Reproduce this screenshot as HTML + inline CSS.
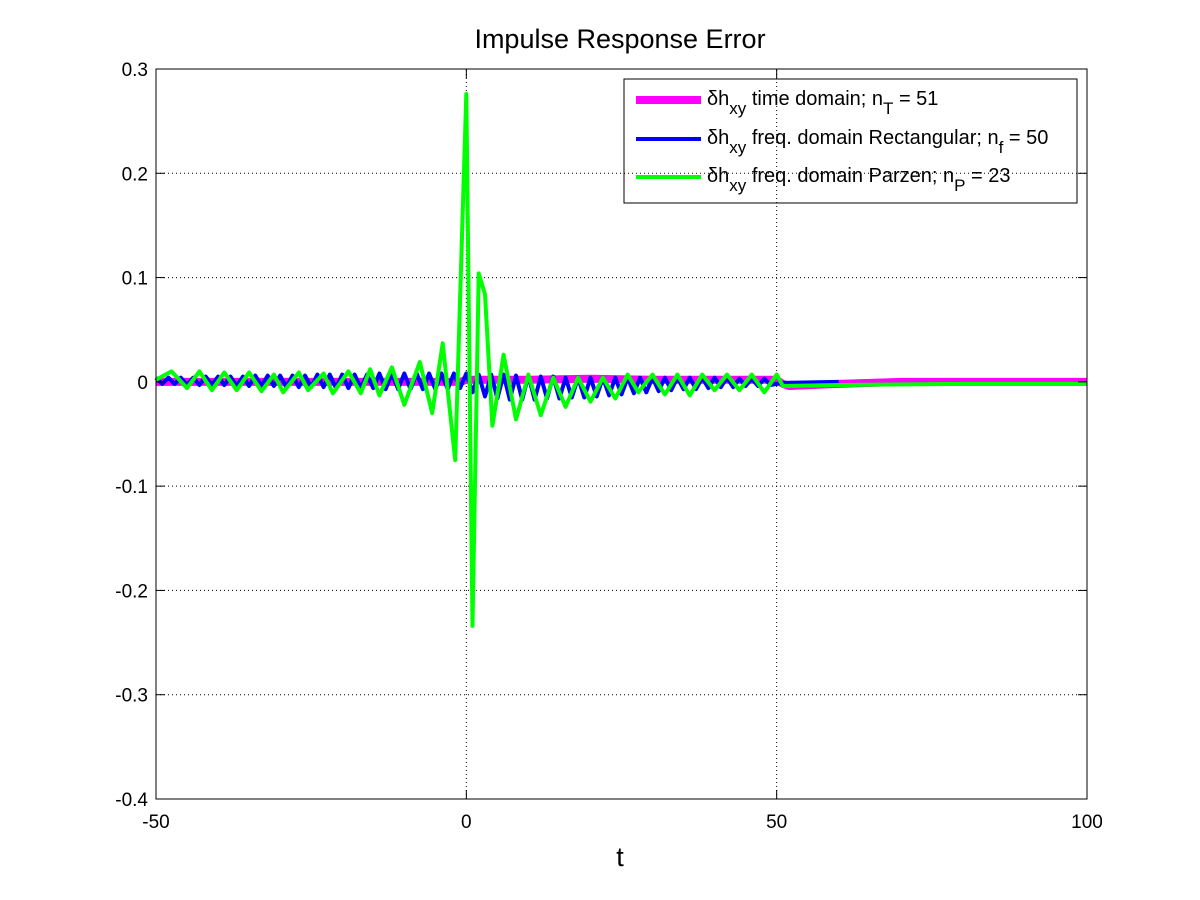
<!DOCTYPE html>
<html><head><meta charset="utf-8"><style>
body{margin:0;background:#fff;}
svg{display:block;font-family:"Liberation Sans",sans-serif;}
</style></head><body>
<svg id="chart" width="1200" height="900" xmlns="http://www.w3.org/2000/svg">
<rect width="1200" height="900" fill="#fff"/>
<text x="620" y="48" font-size="27" text-anchor="middle">Impulse Response Error</text>
<g id="grid"></g>
<g id="series"></g>
<rect x="156" y="69" width="931" height="730" fill="none" stroke="#000" stroke-width="1"/>
<g id="ticks"></g>
<text x="620" y="866" font-size="27" text-anchor="middle">t</text>
<g>
<rect x="624" y="79" width="453" height="124" fill="none" stroke="#000" stroke-width="1"/>
<line x1="636" y1="100" x2="701" y2="100" stroke="#ff00ff" stroke-width="8"/>
<text x="707" y="105" font-size="20">δh<tspan dy="9" font-size="17">xy</tspan><tspan dy="-9"> time domain; n</tspan><tspan dy="9" font-size="17">T</tspan><tspan dy="-9"> = 51</tspan></text>
<line x1="636" y1="139" x2="701" y2="139" stroke="#0000ff" stroke-width="4"/>
<text x="707" y="144" font-size="20">δh<tspan dy="9" font-size="17">xy</tspan><tspan dy="-9"> freq. domain Rectangular; n</tspan><tspan dy="9" font-size="17">f</tspan><tspan dy="-9"> = 50</tspan></text>
<line x1="636" y1="177" x2="701" y2="177" stroke="#00ff00" stroke-width="4"/>
<text x="707" y="182" font-size="20">δh<tspan dy="9" font-size="17">xy</tspan><tspan dy="-9"> freq. domain Parzen; n</tspan><tspan dy="9" font-size="17">P</tspan><tspan dy="-9"> = 23</tspan></text>
</g>
</svg>
<script>
const xTicks=[-50,0,50,100];
const yTicks=[-0.4,-0.3,-0.2,-0.1,0,0.1,0.2,0.3];
const yTickLabels=["-0.4","-0.3","-0.2","-0.1","0","0.1","0.2","0.3"];
// magenta (time domain)
const tM=[-50,-1,0,10,20,30,40,50,51,52,60,70,100];
const vM=[0,0,0.002,0.002,0.003,0.002,0.002,0.002,-0.002,-0.004,-0.002,0,0];
// blue (rectangular), alternating per sample
const tB=[-50,-49,-48,-47,-46,-45,-44,-43,-42,-41,-40,-39,-38,-37,-36,-35,-34,-33,-32,-31,-30,-29,-28,-27,-26,-25,-24,-23,-22,-21,-20,-19,-18,-17,-16,-15,-14,-13,-12,-11,-10,-9,-8,-7,-6,-5,-4,-3,-2,-1,0,1,2,3,4,5,6,7,8,9,10,11,12,13,14,15,16,17,18,19,20,21,22,23,24,25,26,27,28,29,30,31,32,33,34,35,36,37,38,39,40,41,42,43,44,45,46,47,48,49,50,51,60,70,100];
const vB=[0.004,-0.002,0.004,-0.002,0.004,-0.003,0.004,-0.003,0.005,-0.003,0.005,-0.003,0.005,-0.004,0.005,-0.004,0.006,-0.004,0.006,-0.004,0.006,-0.005,0.006,-0.005,0.006,-0.005,0.007,-0.005,0.007,-0.006,0.007,-0.006,0.007,-0.006,0.007,-0.006,0.008,-0.007,0.008,-0.007,0.008,-0.007,0.008,-0.007,0.008,-0.007,0.008,-0.007,0.008,-0.006,0.008,-0.010,0.007,-0.014,0.007,-0.016,0.007,-0.017,0.006,-0.017,0.006,-0.017,0.005,-0.016,0.005,-0.016,0.004,-0.015,0.004,-0.015,0.004,-0.014,0.004,-0.013,0.004,-0.012,0.004,-0.011,0.004,-0.010,0.004,-0.009,0.004,-0.008,0.004,-0.007,0.004,-0.007,0.004,-0.006,0.004,-0.005,0.004,-0.005,0.003,-0.004,0.003,-0.004,0.003,-0.003,-0.002,-0.001,0];
// green (Parzen)
const tG=[-50,-47.5,-45,-43,-41,-39,-37,-35,-33,-31,-29.5,-27,-25.5,-23,-21.5,-19,-17,-15.5,-14,-12,-10,-7.5,-5.5,-3.8,-1.8,0,1,2,3,4.2,6,8,10,12,14,16,18,20,22,24,26,27.7,30,32,34,36,38,40,42,44,46,48,50,51,60,80,100];
const vG=[0.002,0.010,-0.006,0.010,-0.008,0.009,-0.008,0.009,-0.009,0.007,-0.010,0.009,-0.008,0.008,-0.011,0.010,-0.011,0.012,-0.013,0.014,-0.022,0.019,-0.030,0.037,-0.075,0.276,-0.234,0.104,0.084,-0.042,0.026,-0.036,0.007,-0.032,0.004,-0.024,0.004,-0.019,0.004,-0.016,0.007,-0.010,0.007,-0.012,0.007,-0.013,0.007,-0.008,0.007,-0.008,0.007,-0.010,0.007,-0.004,-0.003,-0.002,-0.002];

const X0=156,X1=1087,Y0=799,Y1=69;
function sx(t){return X0+(t-(-50))*(X1-X0)/150;}
function sy(v){return Y0-(v-(-0.4))*(Y0-Y1)/0.7;}
const NS="http://www.w3.org/2000/svg";
const grid=document.getElementById('grid'),ticks=document.getElementById('ticks'),ser=document.getElementById('series');
function mk(tag,attrs,parent){const e=document.createElementNS(NS,tag);for(const k in attrs)e.setAttribute(k,attrs[k]);parent.appendChild(e);return e;}
xTicks.forEach((t,i)=>{
  const x=sx(t);
  if(i>0&&i<xTicks.length-1){const g=mk('line',{x1:x,y1:Y0,x2:x,y2:Y1,stroke:'#000','stroke-width':1,'stroke-dasharray':'1,3'},grid);
  
  }
  const a=mk('line',{x1:x,y1:Y0,x2:x,y2:Y0-9,stroke:'#000'},ticks);
  
  
  const b=mk('line',{x1:x,y1:Y1,x2:x,y2:Y1+9,stroke:'#000'},ticks);
  
  
  const l=mk('text',{x:x,y:828,'font-size':19,'text-anchor':'middle'},ticks);
  l.textContent=String(t);
  
  
});
yTicks.forEach((v,i)=>{
  const y=sy(v);
  if(i>0&&i<yTicks.length-1){const g=mk('line',{x1:X0,y1:y,x2:X1,y2:y,stroke:'#000','stroke-width':1,'stroke-dasharray':'1,3'},grid);
  
  }
  const a=mk('line',{x1:X0,y1:y,x2:X0+9,y2:y,stroke:'#000'},ticks);
  
  
  const b=mk('line',{x1:X1,y1:y,x2:X1-9,y2:y,stroke:'#000'},ticks);
  
  
  const l=mk('text',{x:148,y:y+7,'font-size':19,'text-anchor':'end'},ticks);
  l.textContent=yTickLabels[i];
  
  
});
function path(ts,vs){return ts.map((t,i)=>(i?'L':'M')+sx(t).toFixed(1)+','+sy(vs[i]).toFixed(1)).join('');}
const pm=mk('path',{d:path(tM,vM),fill:'none',stroke:'#ff00ff','stroke-width':8,'stroke-linejoin':'round'},ser);


const pb=mk('path',{d:path(tB,vB),fill:'none',stroke:'#0000ff','stroke-width':4,'stroke-linejoin':'round'},ser);


const pg=mk('path',{d:path(tG,vG),fill:'none',stroke:'#00ff00','stroke-width':4,'stroke-linejoin':'round'},ser);


</script>
</body></html>
